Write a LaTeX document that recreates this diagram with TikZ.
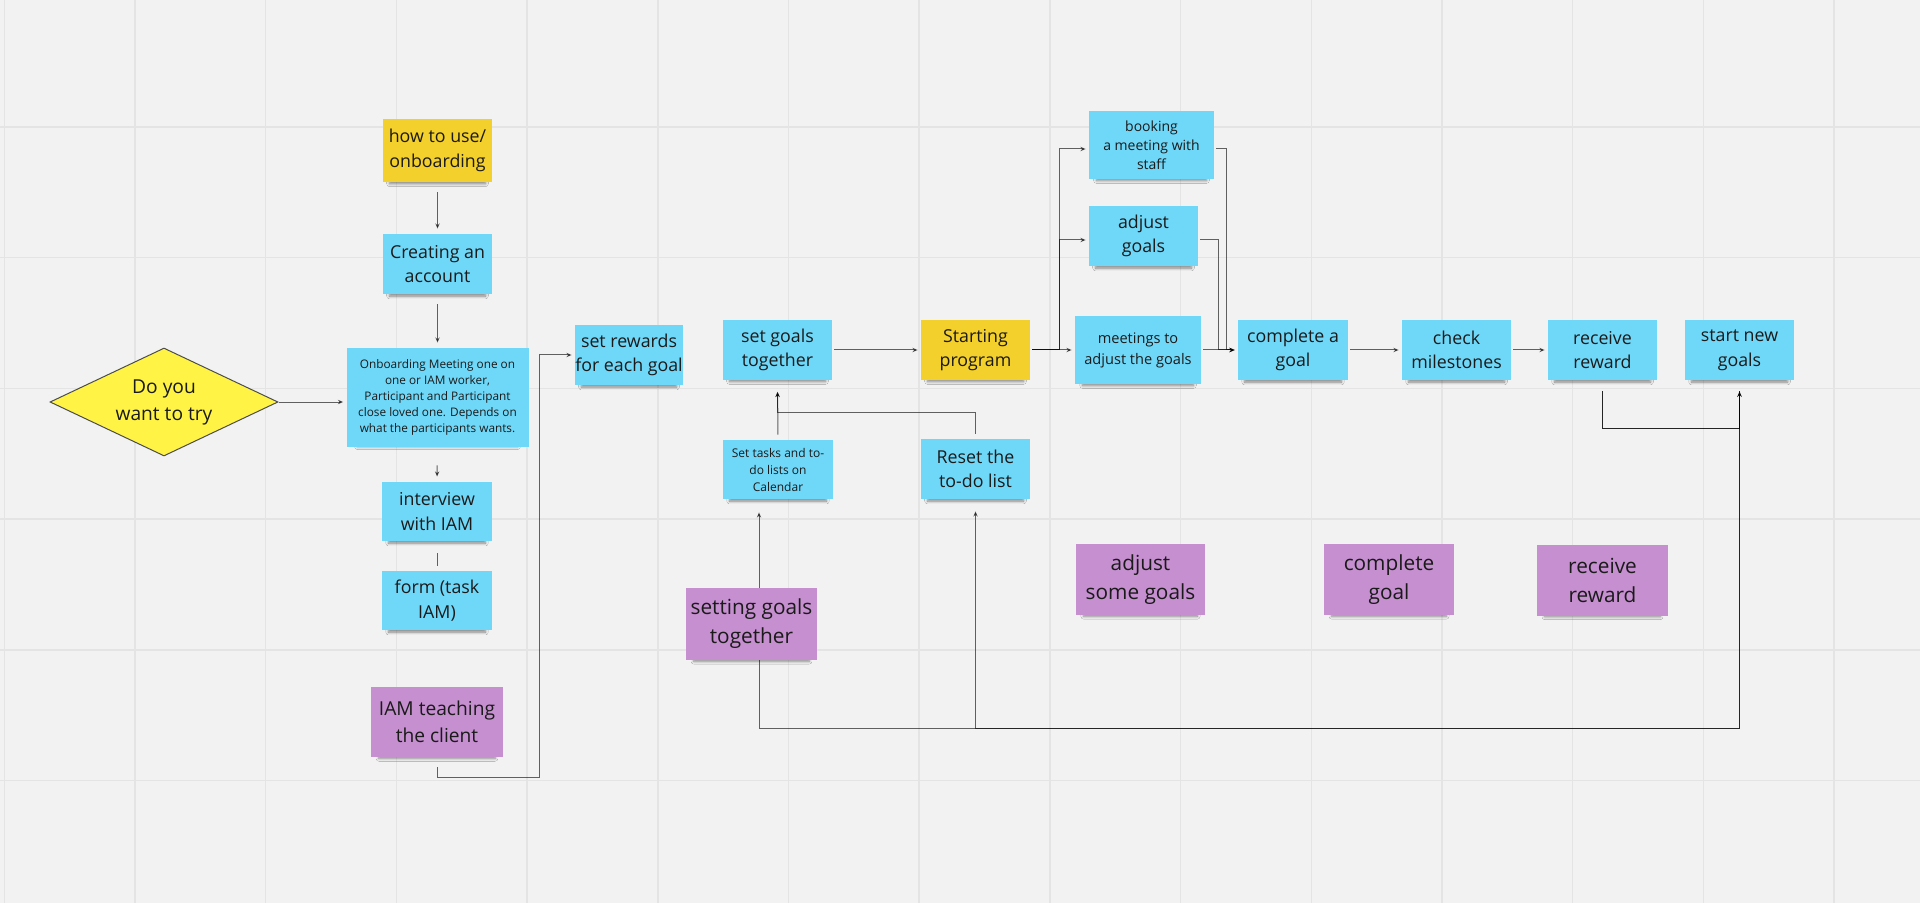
\documentclass[tikz,border=0pt]{standalone}
\usepackage{fontspec}
\setmainfont{Open Sans}
\usetikzlibrary{arrows.meta,shapes.geometric,calc,shadows.blur}
\definecolor{bgc}{HTML}{F2F2F2}
\definecolor{gridc}{HTML}{E4E4E4}
\definecolor{stblue}{HTML}{6FD8F8}
\definecolor{styellow}{HTML}{F4D02C}
\definecolor{stpurple}{HTML}{C68FD0}
\definecolor{dyellow}{HTML}{FFF446}
\definecolor{txt}{HTML}{1A1A1A}
\tikzset{
  sticky/.style={rectangle, inner sep=0pt, align=center, text=txt,
    blur shadow={shadow xshift=0pt, shadow yshift=-3.2pt, shadow blur steps=6,
      shadow blur radius=1.6pt, shadow opacity=45, shadow scale=0.88}},
  bluenote/.style={sticky, fill=stblue},
  yellownote/.style={sticky, fill=styellow},
  purplenote/.style={sticky, fill=stpurple},
  sz/.style 2 args={minimum width=#1*0.5pt, minimum height=#2*0.5pt},
  bigtxt/.style={font=\fontsize{8.9}{12.3}\selectfont},
  smalltxt/.style={font=\fontsize{5.9}{8}\selectfont},
  booktxt/.style={font=\fontsize{7}{9.5}\selectfont},
  meettxt/.style={font=\fontsize{7.3}{10.5}\selectfont},
  tasktxt/.style={font=\fontsize{6}{8.5}\selectfont},
  purpletxt/.style={font=\fontsize{10.4}{14.5}\selectfont},
  iamtxt/.style={font=\fontsize{9.6}{13.5}\selectfont},
  conn/.style={draw=black, opacity=0.6, line width=0.5pt,
    -{Stealth[length=2.6pt,width=2.2pt]}},
  plainconn/.style={draw=black, opacity=0.6, line width=0.5pt},
  connb/.style={draw=black, opacity=0.85, line width=0.9pt,
    -{Stealth[length=2.8pt,width=2.4pt]}},
  hshort/.style={shorten <=1pt, shorten >=1.5pt}
}
\begin{document}
\begin{tikzpicture}[x=0.5pt, y=-0.5pt]
\useasboundingbox (0,0) rectangle (1920,903);
\fill[bgc] (0,0) rectangle (1920,903);
\foreach \i in {0,...,14} \draw[gridc, line width=0.75pt] ({4.3+130.7*\i},0) -- ++(0,903);
\foreach \j in {0,...,6} \draw[gridc, line width=0.75pt] (0,{-3.7+130.7*\j}) -- ++(1920,0);

% nodes
\node[diamond, aspect=2.11, inner sep=0pt, minimum width=114pt, minimum height=54pt,
  fill=dyellow, draw=black!70, line width=0.5pt, text=txt, align=center,
  font=\fontsize{9.6}{13.5}\selectfont] (try) at (164,402) {Do you\\want to try};

\node[yellownote, sz={109}{63}, bigtxt] (howto) at (437.5,150.5) {how to use/\\onboarding};
\node[bluenote, sz={109}{60}, bigtxt] (create) at (437.5,264) {Creating an\\account};
\node[bluenote, sz={182}{99}, smalltxt] (onboard) at (437.5,397.5) {Onboarding Meeting one on\\one or IAM worker,\\Participant and Participant\\close loved one. Depends on\\what the participants wants.};
\node[bluenote, sz={110}{59}, bigtxt] (interview) at (437,511.5) {interview\\with IAM};
\node[bluenote, sz={110}{59}, bigtxt] (form) at (437,600.5) {form (task\\IAM)};
\node[purplenote, sz={132}{70}, iamtxt] (iam) at (437,722) {IAM teaching\\the client};

\node[bluenote, sz={108}{60}, bigtxt] (rewards) at (629,355) {set rewards\\for each goal};
\node[bluenote, sz={109}{59}, bigtxt] (setgoals) at (777.5,350) {set goals\\together};
\node[yellownote, sz={109}{59}, bigtxt] (starting) at (975.5,350) {Starting\\program};
\node[bluenote, sz={125}{68}, booktxt] (booking) at (1151.5,145) {booking\\a meeting with\\staff};
\node[bluenote, sz={109}{60}, bigtxt] (adjust) at (1143.5,236) {adjust\\goals};
\node[bluenote, sz={126}{68}, meettxt] (meetings) at (1138,350) {meetings to\\adjust the goals};
\node[bluenote, sz={110}{60}, bigtxt] (complete) at (1293,350) {complete a\\goal};
\node[bluenote, sz={109}{60}, bigtxt] (check) at (1456.5,350) {check\\milestones};
\node[bluenote, sz={109}{60}, bigtxt] (receive) at (1602.5,350) {receive\\reward};
\node[bluenote, sz={109}{60}, bigtxt] (startnew) at (1739.5,350) {start new\\goals};

\node[bluenote, sz={110}{59}, tasktxt] (settasks) at (778,469.5) {Set tasks and to-\\do lists on\\Calendar};
\node[bluenote, sz={109}{60}, bigtxt] (reset) at (975.5,469) {Reset the\\to-do list};

\node[purplenote, sz={129}{71}, purpletxt] (adjustp) at (1140.5,579.5) {adjust\\some goals};
\node[purplenote, sz={130}{71}, purpletxt] (completep) at (1389,579.5) {complete\\goal};
\node[purplenote, sz={131}{71}, purpletxt] (receivep) at (1602.5,580) {receive\\reward};

% connectors
\draw[conn, shorten <=5pt, shorten >=2.5pt] (howto.south) -- (create.north);
\draw[conn, shorten <=5pt, shorten >=2.5pt] (create.south) -- (onboard.north);
\draw[conn, shorten <=9pt, shorten >=2.5pt] (onboard.south) -- (interview.north);
\draw[plainconn, shorten <=6pt, shorten >=2.5pt] (interview.south) -- (form.north);
\draw[conn, shorten >=1.5pt] (try.east) -- (try.east -| onboard.west);
\draw[conn, shorten <=5pt, shorten >=1.5pt] (iam.south) -- ++(0,20) -| ([xshift=-17.5pt]rewards.west) -- (rewards.west);

\draw[conn, hshort] (setgoals.east) -- (starting.west);
\coordinate (j1) at (1059,350);
\draw[conn, hshort] (starting.east) -- (meetings.west);
\draw[conn, hshort] (starting.east) -- (j1) |- ([yshift=-2pt]booking.west);
\draw[conn, hshort] (starting.east) -- (j1) |- ([yshift=-2pt]adjust.west);
\draw[conn, hshort] ([yshift=-2pt]booking.east) -- ++(12,0) |- (complete.west);
\draw[conn, hshort] ([yshift=-2pt]adjust.east) -- ++(20,0) |- (complete.west);
\draw[conn, hshort] (meetings.east) -- (complete.west);
\draw[conn, hshort] (complete.east) -- (check.west);
\draw[conn, hshort] (check.east) -- (receive.west);
\draw[connb, shorten <=5.5pt, shorten >=5.5pt] (receive.south) -- ++(0,48) -| (startnew.south);

\draw[conn, shorten <=2.5pt, shorten >=6pt] (settasks.north) -- (setgoals.south);
\draw[conn, shorten <=2.5pt, shorten >=6pt] (reset.north) -- ++(0,-26) -| (setgoals.south);
\draw[conn, shorten <=5.5pt, shorten >=6.5pt] (startnew.south) -- ++(0,348) -| ([xshift=-9.5pt]settasks.south);
\draw[conn, shorten <=5.5pt, shorten >=6pt] (startnew.south) -- ++(0,348) -| (reset.south);

% note lying over the connector
\node[purplenote, sz={131}{72}, purpletxt] (settingp) at (751.5,624) {setting goals\\together};
\end{tikzpicture}
\end{document}
